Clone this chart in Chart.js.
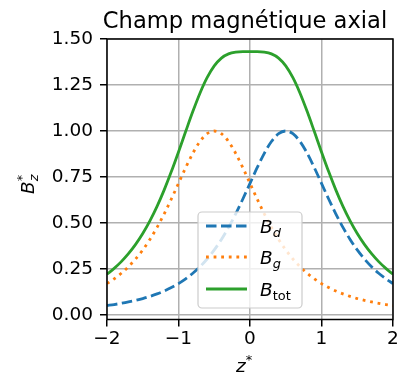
<!DOCTYPE html>
<html>
<head>
<meta charset="utf-8">
<script src="https://cdn.jsdelivr.net/npm/chart.js@4.4.1/dist/chart.umd.min.js"></script>
<style>
  html, body { margin: 0; padding: 0; background: #fff; }
  canvas { display: block; }
</style>
</head>
<body>
<canvas id="champAxial" width="406" height="377"></canvas>
<script>
// Données
const zEtoile = [-2.0, -1.9, -1.8, -1.7, -1.6, -1.5, -1.4, -1.3, -1.2, -1.1, -1.0,
                 -0.9, -0.8, -0.7, -0.6, -0.5, -0.4, -0.3, -0.2, -0.1, 0.0,
                 0.1, 0.2, 0.3, 0.4, 0.5, 0.6, 0.7, 0.8, 0.9, 1.0,
                 1.1, 1.2, 1.3, 1.4, 1.5, 1.6, 1.7, 1.8, 1.9, 2.0];
const champDroite = [0.0512, 0.0569, 0.0634, 0.0709, 0.0795, 0.0894, 0.1010, 0.1145, 0.1303, 0.1489, 0.1707,
                     0.1964, 0.2267, 0.2624, 0.3044, 0.3536, 0.4107, 0.4761, 0.5498, 0.6305, 0.7155,
                     0.8004, 0.8787, 0.9429, 0.9852, 1.0000, 0.9852, 0.9429, 0.8787, 0.8004, 0.7155,
                     0.6305, 0.5498, 0.4761, 0.4107, 0.3536, 0.3044, 0.2624, 0.2267, 0.1964, 0.1707];
const champGauche = [0.1707, 0.1964, 0.2267, 0.2624, 0.3044, 0.3536, 0.4107, 0.4761, 0.5498, 0.6305, 0.7155,
                     0.8004, 0.8787, 0.9429, 0.9852, 1.0000, 0.9852, 0.9429, 0.8787, 0.8004, 0.7155,
                     0.6305, 0.5498, 0.4761, 0.4107, 0.3536, 0.3044, 0.2624, 0.2267, 0.1964, 0.1707,
                     0.1489, 0.1303, 0.1145, 0.1010, 0.0894, 0.0795, 0.0709, 0.0634, 0.0569, 0.0512];
const champTotal = [0.2219, 0.2533, 0.2901, 0.3333, 0.3839, 0.4430, 0.5117, 0.5906, 0.6801, 0.7794, 0.8862,
                    0.9968, 1.1054, 1.2053, 1.2896, 1.3536, 1.3959, 1.4190, 1.4285, 1.4309, 1.4310,
                    1.4309, 1.4285, 1.4190, 1.3959, 1.3536, 1.2896, 1.2053, 1.1054, 0.9968, 0.8862,
                    0.7794, 0.6801, 0.5906, 0.5117, 0.4430, 0.3839, 0.3333, 0.2901, 0.2533, 0.2219];
const ticksX = [-2, -1, 0, 1, 2];
const ticksY = [0, 0.25, 0.5, 0.75, 1.0, 1.25, 1.5];
const indicesLegende = ['d', 'g', 'tot'];

const POLICE = '"DejaVu Sans"';
const TAILLE = 18.5;
const couleurs = ['#1f77b4', '#ff7f0e', '#2ca02c'];
const tirets = [[10.5, 4.5], [2.8, 4.8], []];

function points(valeurs) {
    return zEtoile.map((z, i) => ({ x: z, y: valeurs[i] }));
}

// texte du genre B_d : base en italique, indice plus petit
function texteIndice(ctx, x, y, base, indice, indiceItalique) {
    ctx.font = 'italic ' + TAILLE + 'px ' + POLICE;
    ctx.fillText(base, x, y);
    const w = ctx.measureText(base).width;
    ctx.font = (indiceItalique ? 'italic ' : '') + (TAILLE * 0.7) + 'px ' + POLICE;
    ctx.fillText(indice, x + w, y + TAILLE * 0.22);
}

const decorations = {
    id: 'decorations',
    afterDraw(chart) {
        const ctx = chart.ctx;
        const a = chart.chartArea;
        ctx.save();

        // cadre des axes
        ctx.strokeStyle = '#000';
        ctx.lineWidth = 1.5;
        ctx.strokeRect(a.left, a.top, a.right - a.left, a.bottom - a.top);

        // titre
        ctx.fillStyle = '#000';
        ctx.textAlign = 'center';
        ctx.textBaseline = 'alphabetic';
        ctx.font = '22.6px ' + POLICE;
        ctx.fillText('Champ magnétique axial', 245, 27.5);

        // étiquette axe x : z*
        ctx.textAlign = 'left';
        ctx.font = 'italic ' + TAILLE + 'px ' + POLICE;
        ctx.fillText('z', 236, 372);
        let wz = ctx.measureText('z').width;
        ctx.font = (TAILLE * 0.7) + 'px ' + POLICE;
        ctx.fillText('*', 236 + wz, 372 - TAILLE * 0.42);

        // étiquette axe y : B_z^*
        ctx.save();
        ctx.translate(34, 194);
        ctx.rotate(-Math.PI / 2);
        ctx.font = 'italic ' + TAILLE + 'px ' + POLICE;
        ctx.fillText('B', 0, 0);
        const wb = ctx.measureText('B').width;
        ctx.font = (TAILLE * 0.7) + 'px ' + POLICE;
        ctx.fillText('*', wb, -TAILLE * 0.42);
        ctx.font = 'italic ' + (TAILLE * 0.7) + 'px ' + POLICE;
        ctx.fillText('z', wb, TAILLE * 0.22);
        ctx.restore();

        // légende
        const lx = 198, ly = 212, lw = 104, lh = 96, r = 4;
        ctx.beginPath();
        ctx.roundRect(lx, ly, lw, lh, r);
        ctx.fillStyle = 'rgba(255,255,255,0.8)';
        ctx.fill();
        ctx.strokeStyle = '#cccccc';
        ctx.lineWidth = 1.2;
        ctx.stroke();

        const lignesY = [226, 257, 289];
        indicesLegende.forEach((ind, i) => {
            ctx.beginPath();
            ctx.setLineDash(tirets[i]);
            ctx.strokeStyle = couleurs[i];
            ctx.lineWidth = 2.8;
            ctx.lineCap = 'butt';
            ctx.moveTo(206, lignesY[i]);
            ctx.lineTo(247, lignesY[i]);
            ctx.stroke();
            ctx.setLineDash([]);
            ctx.fillStyle = '#000';
            texteIndice(ctx, 260, lignesY[i] + 6.5, 'B', ind, ind !== 'tot');
        });
        ctx.restore();
    }
};

const formatMoins = v => (v < 0 ? '\u2212' + Math.abs(v) : String(v));

const config = {
    type: 'line',
    data: {
        datasets: [
            { label: 'B_d', data: points(champDroite), borderColor: couleurs[0], borderDash: tirets[0], order: 3 },
            { label: 'B_g', data: points(champGauche), borderColor: couleurs[1], borderDash: tirets[1], order: 2 },
            { label: 'B_tot', data: points(champTotal), borderColor: couleurs[2], borderDash: tirets[2], order: 1 }
        ]
    },
    options: {
        responsive: false,
        animation: false,
        devicePixelRatio: 1,
        layout: { padding: { top: 39, right: 13, left: 0, bottom: 0 } },
        elements: {
            line: { borderWidth: 2.8, cubicInterpolationMode: 'monotone', fill: false, borderCapStyle: 'butt' },
            point: { radius: 0, hoverRadius: 0 }
        },
        plugins: {
            legend: { display: false },
            title: { display: false },
            tooltip: { enabled: false }
        },
        scales: {
            x: {
                type: 'linear',
                min: -2,
                max: 2,
                afterBuildTicks: s => { s.ticks = ticksX.map(v => ({ value: v })); },
                afterFit: s => { s.height = 57.5; },
                ticks: {
                    callback: formatMoins,
                    font: { family: 'DejaVu Sans', size: TAILLE },
                    color: '#000',
                    padding: 2,
                    maxRotation: 0,
                    autoSkip: false
                },
                grid: { color: '#b0b0b0', lineWidth: 1.5, tickLength: 7, tickColor: '#000', tickWidth: 1.5 },
                border: { display: false }
            },
            y: {
                type: 'linear',
                min: -0.0245,
                max: 1.5,
                afterBuildTicks: s => { s.ticks = ticksY.map(v => ({ value: v })); },
                afterFit: s => { s.width = 107; },
                ticks: {
                    callback: v => v.toFixed(2),
                    font: { family: 'DejaVu Sans', size: TAILLE },
                    color: '#000',
                    padding: 7,
                    autoSkip: false
                },
                grid: { color: '#b0b0b0', lineWidth: 1.5, tickLength: 7, tickColor: '#000', tickWidth: 1.5 },
                border: { display: false }
            }
        }
    },
    plugins: [decorations]
};

const graphe = new Chart(document.getElementById('champAxial'), config);
</script>
</body>
</html>
